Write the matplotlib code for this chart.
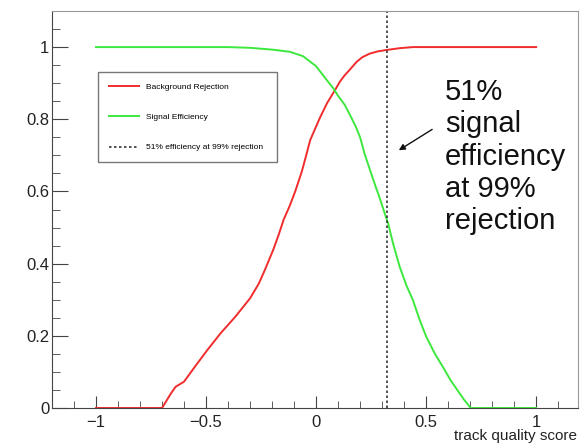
from matplotlib import pyplot as plt
from matplotlib.ticker import MultipleLocator, FuncFormatter

plt.rcParams['font.family'] = ['Liberation Sans', 'DejaVu Sans']

# background rejection (red)
bkg_x = [-1.0, -0.70, -0.66, -0.638, -0.60, -0.55, -0.495, -0.434, -0.367, -0.30,
         -0.26, -0.231, -0.195, -0.17, -0.148, -0.12, -0.095, -0.065, -0.045, -0.027,
         0.0, 0.018, 0.05, 0.086, 0.109, 0.13, 0.154, 0.184, 0.21, 0.244, 0.28, 0.32,
         0.38, 0.44, 0.6, 0.8, 1.0]
bkg_y = [0, 0, 0.04, 0.059, 0.073, 0.115, 0.16, 0.207, 0.253, 0.304,
         0.345, 0.385, 0.438, 0.48, 0.521, 0.56, 0.6, 0.655, 0.7, 0.742,
         0.78, 0.805, 0.845, 0.881, 0.905, 0.922, 0.938, 0.959, 0.972, 0.982, 0.988, 0.992,
         0.997, 1.0, 1.0, 1.0, 1.0]

# signal efficiency (green)
sig_x = [-1.0, -0.4, -0.3, -0.2, -0.12, -0.06, 0.0, 0.048, 0.078, 0.1, 0.13, 0.154,
         0.18, 0.2, 0.22, 0.26, 0.29, 0.312, 0.327, 0.35, 0.38, 0.41, 0.44, 0.47,
         0.50, 0.54, 0.576, 0.61, 0.637, 0.67, 0.697, 0.70, 1.0]
sig_y = [1.0, 1.0, 0.998, 0.993, 0.987, 0.975, 0.947, 0.909, 0.886, 0.865, 0.84, 0.812,
         0.78, 0.75, 0.705, 0.632, 0.58, 0.539, 0.512, 0.455, 0.391, 0.34, 0.299, 0.245,
         0.198, 0.15, 0.114, 0.078, 0.054, 0.025, 0.004, 0.0, 0.0]

cut_x = 0.32
note = '51%\nsignal\nefficiency\nat 99%\nrejection'

fig = plt.figure(figsize=(5.8, 4.43), dpi=100)
ax = fig.add_axes([52/580, 35/443, 526/580, 397/443])

ax.plot(bkg_x, bkg_y, color='#f02c2c', lw=1.4, label='Background Rejection')
ax.plot(sig_x, sig_y, color='#3de83d', lw=1.4, label='Signal Efficiency')
ax.axvline(cut_x, color='#333333', lw=1.2, ls=(0, (1.5, 1.5)),
           label='51% efficiency at 99% rejection')

ax.set_xlim(-1.2, 1.19)
ax.set_ylim(0, 1.1)

ax.xaxis.set_major_locator(MultipleLocator(0.5))
ax.xaxis.set_minor_locator(MultipleLocator(0.1))
ax.yaxis.set_major_locator(MultipleLocator(0.2))
ax.yaxis.set_minor_locator(MultipleLocator(0.05))
fmt = FuncFormatter(lambda v, p: ('%g' % round(v, 2)).replace('-', '\u2212'))
ax.xaxis.set_major_formatter(fmt)
ax.yaxis.set_major_formatter(fmt)

ax.tick_params(axis='both', which='both', direction='in', colors='#444444',
               labelcolor='#222222', labelsize=12, top=False, right=False)
ax.tick_params(axis='x', which='major', length=8.6, pad=5)
ax.tick_params(axis='x', which='minor', length=5)
ax.tick_params(axis='y', which='major', length=11.5, pad=2)
ax.tick_params(axis='y', which='minor', length=5.8)

for s in ['left', 'bottom']:
    ax.spines[s].set_color('#444444')
for s in ['top', 'right']:
    ax.spines[s].set_color('#999999')

ax.set_xlabel('track quality score', fontsize=11, color='#222222', ha='right', va='center')
ax.xaxis.set_label_coords(0.998, -0.07)

leg = ax.legend(loc='upper left', bbox_to_anchor=(0.087, 0.615, 0.341, 0.231),
                mode='expand', fontsize=6, fancybox=False, edgecolor='#777777',
                framealpha=1, borderpad=1.3, labelspacing=2.7, handlelength=3.6,
                handletextpad=0.9, borderaxespad=0)
leg.get_frame().set_linewidth(1.0)

ax.annotate('', xy=(0.365, 0.71), xytext=(0.538, 0.776),
            arrowprops=dict(arrowstyle='-|>', color='#111111', lw=1, mutation_scale=9))
ax.text(0.585, 0.915, note, fontsize=21, va='top', ha='left', linespacing=1.2,
        color='#111111')

fig.savefig('out.png', dpi=100)
